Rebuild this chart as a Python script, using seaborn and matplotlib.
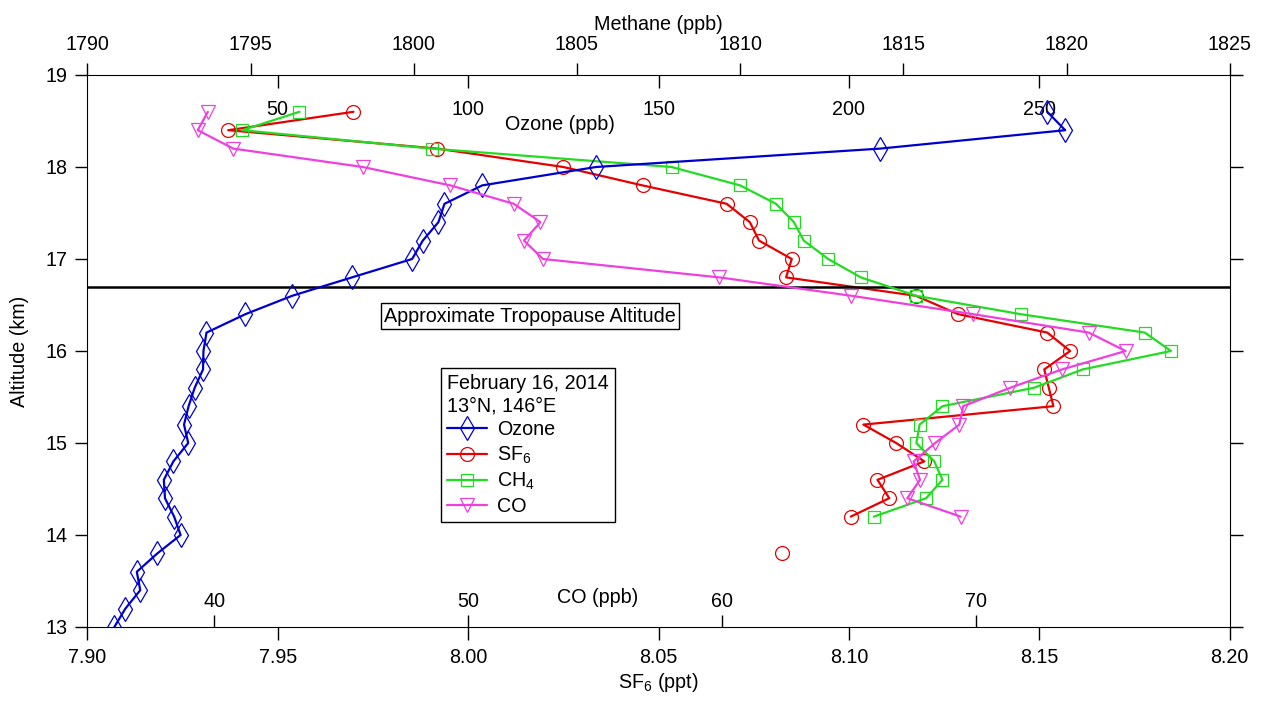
import numpy as np
import pandas as pd
import matplotlib
matplotlib.use("Agg")
import matplotlib.pyplot as plt
import seaborn as sns

# altitude levels (km)
altitude = [13.0, 13.2, 13.4, 13.6, 13.8, 14.0, 14.2, 14.4, 14.6, 14.8,
            15.0, 15.2, 15.4, 15.6, 15.8, 16.0, 16.2, 16.4, 16.6, 16.8,
            17.0, 17.2, 17.4, 17.6, 17.8, 18.0, 18.2, 18.4, 18.6]

ozone = [7.1, 10.0, 13.9, 13.0, 18.4, 24.5, 22.8, 20.4, 20.1, 22.6,
         26.5, 25.4, 26.6, 28.2, 30.4, 30.5, 31.3, 41.5, 53.8, 69.5,
         85.3, 88.1, 92.2, 93.8, 103.7, 133.6, 208.2, 256.8, 252.1]

nan = np.nan
sf6 = [nan, nan, nan, nan, 8.0825, nan, 8.1005, 8.1106, 8.1075, 8.1198,
       8.1124, 8.1038, 8.1537, 8.1525, 8.1513, 8.1581, 8.1521, 8.1287, 8.1176, 8.0835,
       8.0850, 8.0764, 8.0740, 8.0679, 8.0458, 8.0250, 7.9919, 7.9370, 7.9699]

ch4 = [nan, nan, nan, nan, nan, nan, 1814.1, 1815.7, 1816.2, 1815.95,
       1815.4, 1815.5, 1816.2, 1819.0, 1820.5, 1823.2, 1822.4, 1818.6, 1815.4, 1813.7,
       1812.7, 1811.95, 1811.65, 1811.1, 1810.0, 1807.9, 1800.55, 1794.75, 1796.5]

co = [nan, nan, nan, nan, nan, nan, 69.4, 67.3, 67.8, 67.55,
      68.4, 69.35, 69.5, 71.35, 73.4, 75.9, 74.45, 69.9, 65.1, 59.9,
      52.95, 52.2, 52.85, 51.8, 49.3, 45.85, 40.75, 39.35, 39.75]

tropopause = 16.7

sns.set_style("ticks", rc={"axes.edgecolor": "black", "xtick.color": "black",
                           "ytick.color": "black", "text.color": "black",
                           "axes.labelcolor": "black"})
plt.rcParams["font.family"] = ["Liberation Sans", "DejaVu Sans"]
plt.rcParams["mathtext.fontset"] = "custom"
plt.rcParams["mathtext.rm"] = "Liberation Sans"
plt.rcParams["mathtext.it"] = "Liberation Sans:italic"

FS = 14.2


def segments(values):
    # split a profile wherever a level is missing so the line breaks there
    seg, out = 0, []
    for v in values:
        if np.isnan(v):
            seg += 1
        out.append(seg)
    return out


def profile(ax, values, color, marker, ms, label):
    df = pd.DataFrame({"alt": altitude, "val": values, "seg": segments(values)}).dropna()
    sns.lineplot(data=df, x="val", y="alt", units="seg", estimator=None, sort=False,
                 ax=ax, color=color, lw=1.6, marker=marker, markersize=ms,
                 markerfacecolor="none", markeredgecolor=color, markeredgewidth=0.9,
                 label=label, legend=False)


fig = plt.figure(figsize=(12.8, 7.07), dpi=100)
ax = fig.add_axes([87.3 / 1280, 1 - 627 / 707, 1142.4 / 1280, 552 / 707])
ax_ch4 = ax.twiny()
ax_o3 = ax.twiny()
ax_co = ax.twiny()
for a in (ax_ch4, ax_o3, ax_co):
    for s in a.spines.values():
        s.set_visible(False)
    a.patch.set_visible(False)

profile(ax_o3, ozone, "#0000cc", "d", 12, "Ozone")
profile(ax, sf6, "#e60000", "o", 10, "SF$_6$")
profile(ax_ch4, ch4, "#22dc22", "s", 9, "CH$_4$")
profile(ax_co, co, "#ee40e0", "v", 10.5, "CO")

ax.axhline(tropopause, color="black", lw=1.8)

# main axes: SF6 bottom, altitude left/right
ax.set_xlim(7.90, 8.20)
ax.set_ylim(13, 19)
ax.set_xticks(np.arange(7.90, 8.201, 0.05))
ax.set_xticklabels([f"{v:.2f}" for v in np.arange(7.90, 8.201, 0.05)])
ax.set_yticks(range(13, 20))
ax.tick_params(axis="x", direction="out", length=9, width=1, pad=6, labelsize=FS,
               top=False)
ax.tick_params(axis="y", direction="out", length=9, width=1, pad=5, labelsize=FS,
               left=True, right=True)
ax.set_xlabel("SF$_6$ (ppt)", fontsize=FS, labelpad=3)
ax.set_ylabel("Altitude (km)", fontsize=FS, labelpad=12)

# methane: top, outward
ax_ch4.set_xlim(1790, 1825)
ax_ch4.set_xticks(range(1790, 1826, 5))
ax_ch4.tick_params(axis="x", direction="out", length=9, width=1, pad=6, labelsize=FS)
ax_ch4.set_xlabel("Methane (ppb)", fontsize=FS, labelpad=4)

# ozone: top, inward with labels inside
ax_o3.set_xlim(0, 300)
ax_o3.set_xticks([50, 100, 150, 200, 250])
ax_o3.tick_params(axis="x", direction="in", length=9, width=1, pad=-32, labelsize=FS)
ax_o3.set_xlabel("Ozone (ppb)", fontsize=FS)
ax_o3.xaxis.label.set_va("center")
ax_o3.xaxis.set_label_coords(0.414, 0.911)

# CO: bottom, inward with labels inside
ax_co.set_xlim(35, 80)
ax_co.xaxis.set_ticks_position("bottom")
ax_co.xaxis.set_label_position("bottom")
ax_co.set_xticks([40, 50, 60, 70])
ax_co.tick_params(axis="x", direction="in", length=9, width=1, pad=-25, labelsize=FS)
ax_co.set_xlabel("CO (ppb)", fontsize=FS)
ax_co.xaxis.label.set_va("center")
ax_co.xaxis.set_label_coords(0.4465, 0.0543)

for a in (ax_ch4, ax_o3, ax_co):
    a.set_ylim(13, 19)

ax_co.text(0.3875, 0.5634, "Approximate Tropopause Altitude", transform=ax_co.transAxes,
           ha="center", va="center", fontsize=FS,
           bbox=dict(boxstyle="square,pad=0.18", facecolor="white", edgecolor="black", lw=1))

handles = {}
for a in (ax_o3, ax, ax_ch4, ax_co):
    h, l = a.get_legend_handles_labels()
    for hh, ll in zip(h, l):
        handles.setdefault(ll, hh)
leg = ax_co.legend(list(handles.values()), list(handles.keys()),
                   title="February 16, 2014\n13°N, 146°E", loc="upper left",
                   bbox_to_anchor=(0.310, 0.4687), borderaxespad=0, fontsize=FS,
                   title_fontsize=FS, alignment="left", frameon=True, fancybox=False,
                   edgecolor="black", framealpha=1, labelspacing=0.26, handlelength=2.0,
                   handletextpad=0.5, borderpad=0.3)
leg.get_frame().set_linewidth(1)

fig.savefig("out.png", dpi=100)
